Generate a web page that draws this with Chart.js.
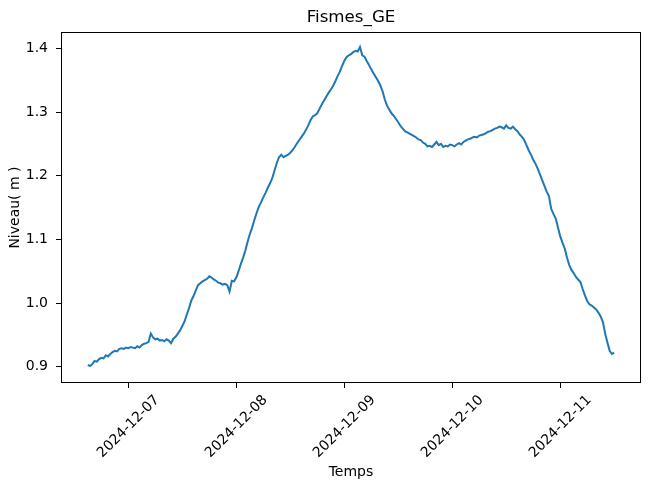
<!DOCTYPE html>
<html>
<head>
<meta charset="utf-8">
<script src="https://cdn.jsdelivr.net/npm/chart.js@4.4.1/dist/chart.umd.min.js"></script>
<style>
  html, body { margin: 0; padding: 0; background: #fff; }
  #c { display: block; }
</style>
</head>
<body>
<canvas id="c" width="649" height="489"></canvas>
<script>
// Series: water level (m), sampled every 30 minutes, starting 2024-12-06 15:00
const seriesStart = '2024-12-06T15:00';
const stepHours = 0.5;
const level_0612 = [0.903,0.901,0.904,0.909,0.908,0.912,0.914,0.913,0.918,0.916,0.920,0.923,0.925,0.924,0.928,0.929,0.928,0.930];
const level_0712 = [0.929,0.931,0.930,0.929,0.932,0.930,0.934,0.936,0.937,0.939,0.952,0.946,0.943,0.944,0.941,0.942,
                    0.940,0.943,0.941,0.937,0.944,0.947,0.952,0.957,0.964,0.971,0.982,0.992,1.004,1.011,1.020,1.028,
                    1.031,1.034,1.036,1.038,1.042,1.040,1.037,1.035,1.032,1.031,1.029,1.030,1.028,1.018,1.035,1.034];
const level_0812 = [1.040,1.050,1.061,1.071,1.082,1.096,1.108,1.118,1.130,1.141,1.151,1.158,1.166,1.173,1.181,1.188,
                    1.196,1.208,1.220,1.229,1.233,1.229,1.231,1.233,1.236,1.240,1.245,1.251,1.256,1.261,1.266,1.272,
                    1.279,1.287,1.293,1.295,1.298,1.305,1.312,1.318,1.324,1.330,1.335,1.341,1.348,1.356,1.363,1.372];
const level_0912 = [1.380,1.386,1.389,1.391,1.394,1.396,1.395,1.402,1.389,1.387,1.380,1.374,1.367,1.361,1.355,1.349,
                    1.342,1.333,1.320,1.310,1.304,1.298,1.294,1.289,1.284,1.278,1.274,1.270,1.268,1.266,1.264,1.262,
                    1.260,1.257,1.256,1.252,1.250,1.246,1.247,1.245,1.249,1.253,1.248,1.250,1.245,1.247,1.246,1.249];
const level_1012 = [1.248,1.246,1.249,1.251,1.249,1.253,1.255,1.257,1.258,1.260,1.261,1.260,1.263,1.264,1.265,1.267,
                    1.269,1.270,1.272,1.274,1.275,1.277,1.276,1.274,1.279,1.275,1.274,1.277,1.273,1.270,1.265,1.261,
                    1.256,1.248,1.240,1.233,1.225,1.219,1.211,1.202,1.193,1.184,1.175,1.168,1.148,1.140,1.133,1.119];
const level_1112 = [1.105,1.095,1.086,1.072,1.060,1.052,1.047,1.041,1.037,1.033,1.022,1.012,1.003,0.998,0.996,0.993,
                    0.990,0.985,0.979,0.970,0.952,0.938,0.925,0.920,0.922];

// Axis ticks
const xTickDates = ['2024-12-07','2024-12-08','2024-12-09','2024-12-10','2024-12-11'];
const yTicks = [0.9, 1.0, 1.1, 1.2, 1.3, 1.4];
const xRange = ['2024-12-06T09:02', '2024-12-11T17:58'];
const yRange = [0.8744, 1.4256];

// ---- build
const REF = Date.parse('2024-12-07T00:00:00Z');
const toHours = s => (Date.parse(s + (s.length <= 10 ? 'T00:00:00Z' : ':00Z')) - REF) / 3600000;
const levels = [].concat(level_0612, level_0712, level_0812, level_0912, level_1012, level_1112);
const t0 = toHours(seriesStart);
const points = levels.map((v, i) => ({ x: t0 + i * stepHours, y: v }));
const xTickHours = xTickDates.map(toHours);

const FONT = 'DejaVu Sans';

const frame = {
  id: 'frame',
  afterDraw(chart) {
    const { ctx, chartArea: a } = chart;
    ctx.save();
    ctx.strokeStyle = '#000';
    ctx.lineWidth = 1;
    ctx.strokeRect(Math.round(a.left) + 0.5, Math.round(a.top) + 0.5,
                   Math.round(a.right - a.left) - 1, Math.round(a.bottom - a.top) - 1);
    ctx.restore();
  }
};

new Chart(document.getElementById('c'), {
  type: 'line',
  data: {
    datasets: [{
      data: points,
      borderColor: '#1f77b4',
      borderWidth: 2,
      pointRadius: 0,
      tension: 0,
      fill: false
    }]
  },
  options: {
    responsive: false,
    animation: false,
    devicePixelRatio: 1,
    layout: { padding: { left: 0, right: 8, top: 0, bottom: 0 } },
    plugins: {
      legend: { display: false },
      tooltip: { enabled: false },
      title: {
        display: true,
        fullSize: false,
        text: 'Fismes_GE',
        color: '#000',
        font: { family: FONT, size: 16.7, weight: 'normal', lineHeight: 1.2 },
        padding: { top: 7.2, bottom: 4.8 }
      }
    },
    scales: {
      x: {
        type: 'linear',
        min: toHours(xRange[0]),
        max: toHours(xRange[1]),
        afterBuildTicks: s => { s.ticks = xTickHours.map(v => ({ value: v })); },
        afterFit: s => { s.height = 106; s.paddingLeft = 0; s.paddingRight = 0; },
        ticks: {
          color: '#000',
          font: { family: FONT, size: 14 },
          minRotation: 45, maxRotation: 45,
          autoSkip: false,
          padding: 4,
          labelOffset: 29,
          callback: v => { const i = xTickHours.indexOf(v); return i >= 0 ? xTickDates[i] : ''; }
        },
        grid: { display: true, drawOnChartArea: false, drawTicks: true, tickLength: 5, color: '#000', lineWidth: 1 },
        border: { display: false },
        title: {
          display: true, text: 'Temps', color: '#000',
          font: { family: FONT, size: 14, lineHeight: 1.2 },
          padding: { top: 0, bottom: 8 }
        }
      },
      y: {
        type: 'linear',
        min: yRange[0],
        max: yRange[1],
        afterBuildTicks: s => { s.ticks = yTicks.map(v => ({ value: v })); },
        afterFit: s => { s.width = 61; s.paddingTop = 0; s.paddingBottom = 0; },
        ticks: {
          color: '#000',
          font: { family: FONT, size: 14 },
          padding: 8,
          callback: v => v.toFixed(1)
        },
        grid: { display: true, drawOnChartArea: false, drawTicks: true, tickLength: 5, color: '#000', lineWidth: 1 },
        border: { display: false },
        title: {
          display: true, text: 'Niveau( m )', color: '#000',
          font: { family: FONT, size: 14, lineHeight: 1.2 },
          padding: { top: 6.6, bottom: 0 }
        }
      }
    }
  },
  plugins: [frame]
});
</script>
</body>
</html>
